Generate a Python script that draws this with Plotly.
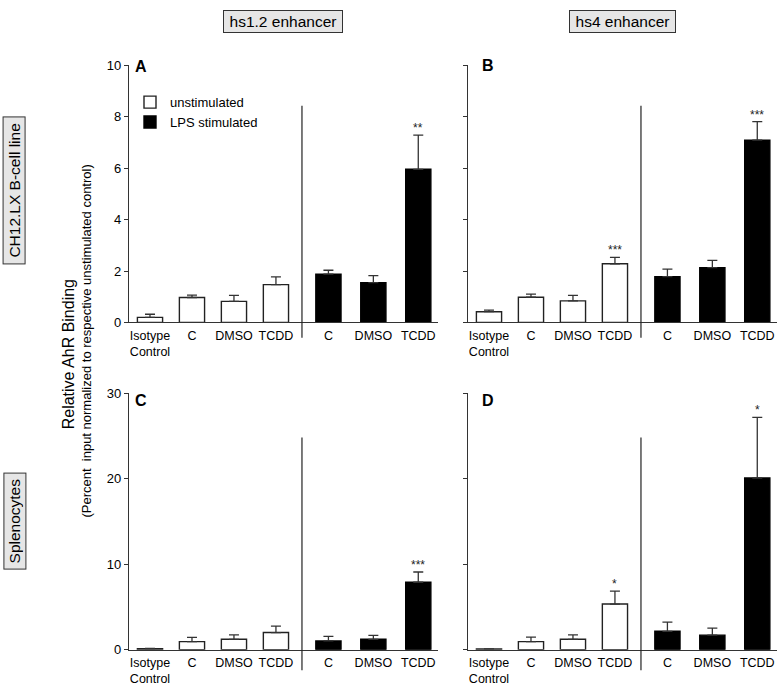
import plotly.graph_objects as go

# ---------------- data ----------------
unstim_labels = ["Isotype<br>Control", "C", "DMSO", "TCDD"]
lps_labels = ["C", "DMSO", "TCDD"]

# Panel A: hs1.2 enhancer, CH12.LX
a_unstim = [0.20, 0.97, 0.82, 1.47]
a_unstim_err = [0.12, 0.09, 0.23, 0.30]
a_lps = [1.88, 1.55, 5.95]
a_lps_err = [0.15, 0.27, 1.33]
a_unstim_sig = ["", "", "", ""]
a_lps_sig = ["", "", "**"]

# Panel B: hs4 enhancer, CH12.LX
b_unstim = [0.42, 0.98, 0.84, 2.28]
b_unstim_err = [0.06, 0.12, 0.21, 0.25]
b_lps = [1.78, 2.13, 7.08]
b_lps_err = [0.29, 0.28, 0.72]
b_unstim_sig = ["", "", "", "***"]
b_lps_sig = ["", "", "***"]

# Panel C: hs1.2 enhancer, splenocytes
c_unstim = [0.12, 0.95, 1.22, 2.01]
c_unstim_err = [0.05, 0.49, 0.53, 0.76]
c_lps = [1.03, 1.22, 7.90]
c_lps_err = [0.53, 0.45, 1.20]
c_unstim_sig = ["", "", "", ""]
c_lps_sig = ["", "", "***"]

# Panel D: hs4 enhancer, splenocytes
d_unstim = [0.10, 0.95, 1.22, 5.35]
d_unstim_err = [0.0, 0.53, 0.53, 1.52]
d_lps = [2.16, 1.71, 20.1]
d_lps_err = [1.07, 0.83, 7.10]
d_unstim_sig = ["", "", "", "*"]
d_lps_sig = ["", "", "*"]

top_ticks = [0, 2, 4, 6, 8, 10]
bottom_ticks = [0, 10, 20, 30]

# ---------------- layout helpers ----------------
W, H = 780, 691
FONT = "Liberation Sans, Arial, sans-serif"

unstim_pos = [float(i) for i in range(len(unstim_labels))]
lps_pos = [4.25 + 1.07 * i for i in range(len(lps_labels))]
all_pos = unstim_pos + lps_pos
all_labels = unstim_labels + lps_labels
SEP_X = 3.62
BAR_W = 0.6


def px_x(p):
    return p / W


def px_y(p):
    return 1 - p / H


panels = [
    dict(name="A", ax="", unstim=a_unstim, ue=a_unstim_err, lps=a_lps, le=a_lps_err,
         us=a_unstim_sig, ls=a_lps_sig, xd=[129, 438], yd=[322.5, 59.3], rng=[0, 10],
         ticks=top_ticks, labels=True, sep=[338, 101], letter=(141, 61)),
    dict(name="B", ax="2", unstim=b_unstim, ue=b_unstim_err, lps=b_lps, le=b_lps_err,
         us=b_unstim_sig, ls=b_lps_sig, xd=[468, 777], yd=[322.5, 59.3], rng=[0, 10],
         ticks=top_ticks, labels=False, sep=[338, 101], letter=(488, 60)),
    dict(name="C", ax="3", unstim=c_unstim, ue=c_unstim_err, lps=c_lps, le=c_lps_err,
         us=c_unstim_sig, ls=c_lps_sig, xd=[129, 438], yd=[657, 395], rng=[0, 30],
         ticks=bottom_ticks, labels=True, sep=[678, 440], letter=(141, 402)),
    dict(name="D", ax="4", unstim=d_unstim, ue=d_unstim_err, lps=d_lps, le=d_lps_err,
         us=d_unstim_sig, ls=d_lps_sig, xd=[468, 777], yd=[657, 395], rng=[0, 30],
         ticks=bottom_ticks, labels=False, sep=[678, 440], letter=(488, 402)),
]

fig = go.Figure()
annotations = []
shapes = []

for k, p in enumerate(panels):
    xa, ya = "x" + p["ax"], "y" + p["ax"]
    err_style = dict(type="data", symmetric=False, color="#333", thickness=1.3, width=5)
    fig.add_trace(go.Bar(
        x=unstim_pos, y=p["unstim"], width=BAR_W,
        marker=dict(color="white", line=dict(color="#222", width=1.4)),
        error_y=dict(array=p["ue"], arrayminus=[0] * len(p["ue"]), **err_style),
        xaxis=xa, yaxis=ya, name="unstimulated", showlegend=(k == 0),
    ))
    fig.add_trace(go.Bar(
        x=lps_pos, y=p["lps"], width=BAR_W,
        marker=dict(color="black", line=dict(color="black", width=1.4)),
        error_y=dict(array=p["le"], arrayminus=[0] * len(p["le"]), **err_style),
        xaxis=xa, yaxis=ya, name="LPS stimulated", showlegend=(k == 0),
    ))
    # significance stars
    for pos, v, e, s in zip(unstim_pos + lps_pos, p["unstim"] + p["lps"],
                            p["ue"] + p["le"], p["us"] + p["ls"]):
        if s:
            annotations.append(dict(x=pos, y=v + e, xref=xa, yref=ya, text=s,
                                    showarrow=False, xanchor="center", yanchor="bottom",
                                    yshift=-2,
                                    font=dict(size=12, color="#222", family=FONT)))
    # separator line between groups
    shapes.append(dict(type="line", xref=xa, yref="paper", x0=SEP_X, x1=SEP_X,
                       y0=px_y(p["sep"][0]), y1=px_y(p["sep"][1]),
                       line=dict(color="#222", width=1.2)))
    # panel letter
    annotations.append(dict(x=px_x(p["letter"][0]), y=px_y(p["letter"][1]),
                            xref="paper", yref="paper", text="<b>%s</b>" % p["name"],
                            showarrow=False, xanchor="center", yanchor="middle",
                            font=dict(size=16, color="black", family=FONT)))
    fig.update_layout(**{
        "xaxis" + p["ax"]: dict(
            domain=[px_x(p["xd"][0]), px_x(p["xd"][1])], anchor=ya,
            range=[-0.5, 6.86], tickmode="array", tickvals=all_pos, ticktext=all_labels,
            showline=True, linecolor="#333", linewidth=1.2, ticks="", showgrid=False,
            zeroline=False, tickfont=dict(size=12.5, color="black", family=FONT),
            ticklabelstandoff=1, fixedrange=True,
        ),
        "yaxis" + p["ax"]: dict(
            domain=[px_y(p["yd"][0]), px_y(p["yd"][1])], anchor=xa,
            range=p["rng"], tickmode="array", tickvals=p["ticks"],
            showticklabels=p["labels"], ticks="outside", ticklen=4, tickwidth=1.2,
            tickcolor="#333", showline=True, linecolor="#333", linewidth=1.2,
            showgrid=False, zeroline=False,
            tickfont=dict(size=13, color="black", family=FONT),
        ),
    })

# column headers (boxed)
for txt, cx, bw in [("hs1.2 enhancer", 283, 114), ("hs4 enhancer", 622.5, 101)]:
    annotations.append(dict(x=px_x(cx), y=px_y(14.5), xref="paper", yref="paper",
                            xanchor="center", yanchor="middle",
                            text=txt, showarrow=False, bgcolor="#e6e6e6",
                            bordercolor="#333", borderwidth=1, borderpad=2,
                            width=bw, height=17,
                            font=dict(size=15.5, color="black", family=FONT)))
# row headers (boxed, rotated)
for txt, cy, bw in [("CH12.LX B-cell line", 188, 142), ("Splenocytes", 525.5, 91)]:
    annotations.append(dict(x=px_x(14.5), y=px_y(cy), xref="paper", yref="paper",
                            xanchor="center", yanchor="middle",
                            text=txt, textangle=-90, showarrow=False, bgcolor="#e6e6e6",
                            bordercolor="#333", borderwidth=1, borderpad=2,
                            width=bw, height=17,
                            font=dict(size=15.5, color="black", family=FONT)))
# y-axis title
annotations.append(dict(x=px_x(68), y=px_y(355), xref="paper", yref="paper",
                        xanchor="center", yanchor="middle",
                        text="Relative AhR Binding", textangle=-90, showarrow=False,
                        font=dict(size=16, color="black", family=FONT)))
annotations.append(dict(x=px_x(87), y=px_y(342), xref="paper", yref="paper",
                        xanchor="center", yanchor="middle",
                        text="(Percent  input normalized to respective unstimulated control)",
                        textangle=-90, showarrow=False,
                        font=dict(size=13, color="black", family=FONT)))

fig.update_layout(
    width=W, height=H, margin=dict(l=0, r=0, t=0, b=0),
    paper_bgcolor="white", plot_bgcolor="white", barmode="overlay",
    font=dict(family=FONT, color="black"),
    annotations=annotations, shapes=shapes,
    legend=dict(x=px_x(130), y=px_y(82), xanchor="left", yanchor="top",
                bgcolor="rgba(0,0,0,0)", font=dict(size=13, family=FONT, color="black"),
                itemwidth=30, tracegroupgap=0),
    showlegend=True,
)

fig.write_html("out.html", config={"displayModeBar": False},
               post_script="document.body.style.margin='0px';document.body.style.overflow='hidden';")
